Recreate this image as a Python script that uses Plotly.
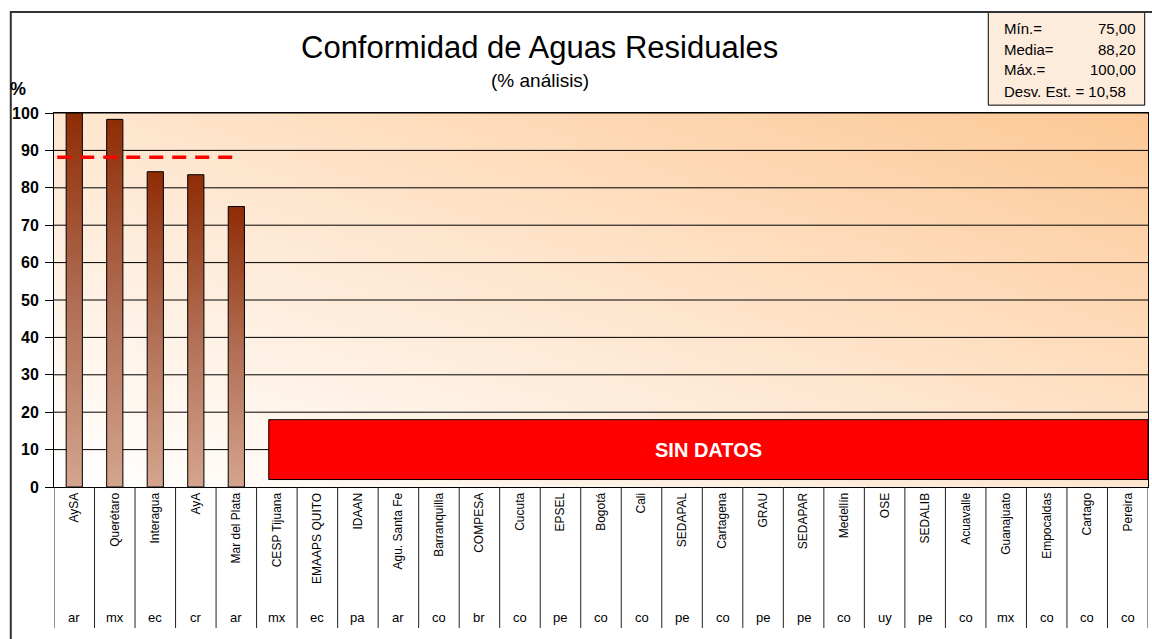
import numpy as np
import plotly.graph_objects as go

# ---------------- data ----------------
utilities = ["AySA", "Querétaro", "Interagua", "AyA", "Mar del Plata", "CESP Tijuana",
             "EMAAPS QUITO", "IDAAN", "Agu. Santa Fe", "Barranquilla", "COMPESA", "Cucuta",
             "EPSEL", "Bogotá", "Cali", "SEDAPAL", "Cartagena", "GRAU", "SEDAPAR", "Medellín",
             "OSE", "SEDALIB", "Acuavalle", "Guanajuato", "Empocaldas", "Cartago", "Pereira"]
countries = ["ar", "mx", "ec", "cr", "ar", "mx", "ec", "pa", "ar", "co", "br", "co", "pe", "co",
             "co", "pe", "co", "pe", "pe", "co", "uy", "pe", "co", "mx", "co", "co", "co"]
# values only for the first five utilities (rest: SIN DATOS)
values = [100.0, 98.3, 84.3, 83.5, 75.0]
stats_labels = ["Mín.=", "Media=", "Máx.="]
stats_values = ["75,00", "88,20", "100,00"]
stats_std = "Desv. Est. = 10,58"
mean_value = 88.2
y_ticks = [0, 10, 20, 30, 40, 50, 60, 70, 80, 90, 100]
no_data_range = [2.0, 18.0]

FONT = "Arial, Liberation Sans, sans-serif"
n = len(utilities)
xmin, xmax = -0.5, n - 0.5

fig = go.Figure()

# background gradient (white bottom-left -> peach top-right)
gx = np.linspace(xmin, xmax, 80)
gy = np.linspace(0, 100, 40)
GX, GY = np.meshgrid((gx - xmin) / (xmax - xmin), gy / 100.0)
Z = (GX + GY) / 2.0
fig.add_trace(go.Heatmap(x=gx, y=gy, z=Z, zmin=0, zmax=1, zsmooth="best",
                         colorscale=[[0, "#FFFFFF"], [0.5, "#FEE6CF"], [1, "#FDC895"]],
                         showscale=False, hoverinfo="skip"))

# grid lines
gxs, gys = [], []
for t in y_ticks[1:]:
    gxs += [xmin, xmax, None]
    gys += [t, t, None]
fig.add_trace(go.Scatter(x=gxs, y=gys, mode="lines", line=dict(color="#000000", width=1),
                         hoverinfo="skip", showlegend=False))

# bars with vertical gradient
bw = 0.4
for i, v in enumerate(values):
    fig.add_trace(go.Scatter(
        x=[i - bw / 2, i + bw / 2, i + bw / 2, i - bw / 2, i - bw / 2],
        y=[0, 0, v, v, 0], mode="lines", fill="toself",
        fillgradient=dict(type="vertical", colorscale=[[0, "#D4A58D"], [0.5, "#B06D53"], [1, "#8F2C05"]]),
        line=dict(color="#000000", width=1), hoverinfo="skip", showlegend=False))

# mean dashed line
fig.add_trace(go.Scatter(x=[-0.42, len(values) - 1], y=[mean_value, mean_value], mode="lines",
                         line=dict(color="#FF0000", width=3.5, dash="14px,9px"),
                         hoverinfo="skip", showlegend=False))

shapes = []
# SIN DATOS box
shapes.append(dict(type="rect", xref="x", yref="y", x0=len(values) - 0.2, x1=xmax,
                   y0=no_data_range[0], y1=no_data_range[1], fillcolor="#FF0000",
                   line=dict(color="#000000", width=1), layer="above"))
# category separators below the axis
for i in range(n + 1):
    shapes.append(dict(type="line", xref="x", yref="paper", x0=i - 0.5, x1=i - 0.5,
                       y0=0, y1=-0.377, line=dict(color="#222222", width=1)))
# stats box
shapes.append(dict(type="rect", xref="paper", yref="paper", x0=0.854, x1=0.997, y0=1.021, y1=1.27,
                   fillcolor="#FDEBDC", line=dict(color="#000000", width=1)))
# outer frame
shapes.append(dict(type="rect", xref="paper", yref="paper", x0=-0.0395, x1=1.02, y0=-0.41, y1=1.27,
                   line=dict(color="#333333", width=2)))

annotations = []
annotations.append(dict(x=(len(values) - 0.2 + xmax) / 2, y=sum(no_data_range) / 2, xref="x", yref="y",
                        text="<b>SIN DATOS</b>", showarrow=False, xanchor="center", yanchor="middle",
                        font=dict(family=FONT, size=20, color="#FFFFFF")))
for i, c in enumerate(countries):
    annotations.append(dict(x=i, y=-0.35, xref="x", yref="paper", text=c, showarrow=False,
                            xanchor="center", yanchor="middle",
                            font=dict(family=FONT, size=13, color="#000000")))
annotations.append(dict(x=0.444, y=1.176, xref="paper", yref="paper",
                        text="Conformidad de Aguas Residuales", showarrow=False,
                        xanchor="center", yanchor="middle",
                        font=dict(family=FONT, size=31, color="#000000")))
annotations.append(dict(x=0.444, y=1.088, xref="paper", yref="paper", text="(% análisis)",
                        showarrow=False, xanchor="center", yanchor="middle",
                        font=dict(family=FONT, size=19, color="#000000")))
annotations.append(dict(x=-0.033, y=1.064, xref="paper", yref="paper", text="<b>%</b>",
                        showarrow=False, xanchor="center", yanchor="middle",
                        font=dict(family=FONT, size=18, color="#000000")))
stat_y = [1.226, 1.171, 1.115]
for lab, val, yy in zip(stats_labels, stats_values, stat_y):
    annotations.append(dict(x=0.867, y=yy, xref="paper", yref="paper", text=lab, showarrow=False,
                            xanchor="left", yanchor="middle",
                            font=dict(family=FONT, size=15, color="#000000")))
    annotations.append(dict(x=0.991, y=yy, xref="paper", yref="paper", text=val, showarrow=False,
                            xanchor="right", yanchor="middle",
                            font=dict(family=FONT, size=15, color="#000000")))
annotations.append(dict(x=0.867, y=1.058, xref="paper", yref="paper", text=stats_std, showarrow=False,
                        xanchor="left", yanchor="middle",
                        font=dict(family=FONT, size=15, color="#000000")))

fig.update_layout(
    width=1152, height=639,
    margin=dict(l=54, r=4, t=113, b=152),
    paper_bgcolor="#FFFFFF", plot_bgcolor="#FFFFFF",
    showlegend=False,
    shapes=shapes, annotations=annotations,
    xaxis=dict(range=[xmin, xmax], tickvals=list(range(n)), ticktext=utilities, tickangle=-90,
               tickfont=dict(family=FONT, size=12, color="#000000"), ticks="", showgrid=False,
               zeroline=False, showline=True, linecolor="#000000", linewidth=1, mirror=True,
               fixedrange=True),
    yaxis=dict(range=[0, 100], tickvals=y_ticks, ticks="outside", ticklen=8, tickcolor="#000000",
               ticklabelstandoff=3,
               tickfont=dict(family=FONT, size=16, color="#000000", weight="bold"),
               showgrid=False, zeroline=False, showline=True, linecolor="#000000", linewidth=1,
               mirror=True, fixedrange=True),
)

fig.write_html("out.html", config={"displayModeBar": False},
               post_script="document.body.style.margin='0';document.body.style.overflow='hidden';")
